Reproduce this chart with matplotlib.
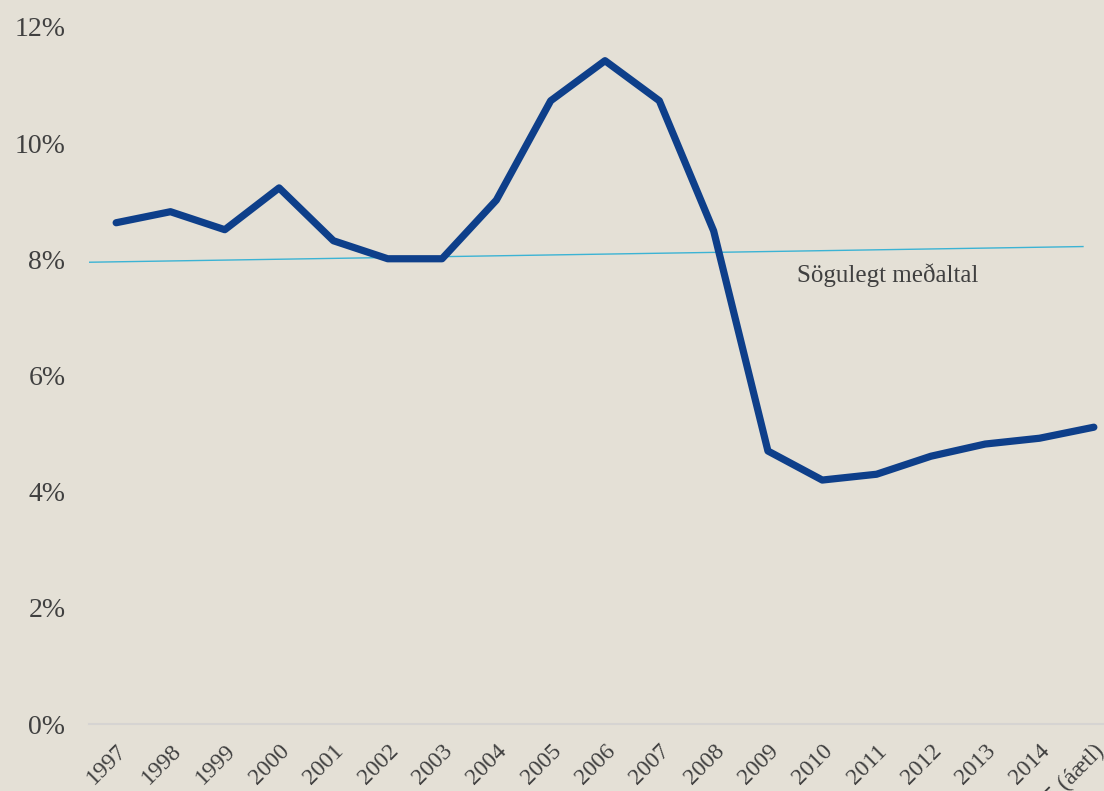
import matplotlib
matplotlib.use("Agg")
import matplotlib.pyplot as plt
import numpy as np

# data
years = ['1997', '1998', '1999', '2000', '2001', '2002', '2003', '2004', '2005', '2006',
         '2007', '2008', '2009', '2010', '2011', '2012', '2013', '2014', '2015 (áætl)']
rate = [8.63, 8.82, 8.51, 9.23, 8.32, 8.01, 8.01, 9.02, 10.73, 11.42,
        10.73, 8.49, 4.70, 4.20, 4.30, 4.61, 4.82, 4.92, 5.11]
avg_x = [-0.5, 17.8]
avg_y = [7.95, 8.22]
avg_label = 'Sögulegt meðaltal'
yticks = [0, 2, 4, 6, 8, 10, 12]

bg = '#E4E0D6'
plt.rcParams['font.family'] = ['Liberation Serif', 'DejaVu Serif']

fig = plt.figure(figsize=(11.04, 7.91), dpi=100, facecolor=bg)
ax = fig.add_axes([89/1104, 1-724/791, 1032/1104, (724-27)/791])
ax.set_facecolor(bg)

x = np.arange(len(years))
ax.plot(avg_x, avg_y, color='#3BB3D4', lw=1.0, zorder=2)
ax.plot(x, rate, color='#0E3F8A', lw=5.2, solid_capstyle='round', solid_joinstyle='round', zorder=3)
ax.text(12.53, 7.93, avg_label, fontsize=18, color='#404040', va='top', ha='left')

ax.set_xlim(-0.5, len(years) - 0.5)
ax.set_ylim(0, 12)
ax.set_yticks(yticks)
ax.set_yticklabels([f'{v}%' for v in yticks], fontsize=20, color='#404040')
ax.set_xticks(x)
ax.set_xticklabels(years, rotation=45, ha='right', va='top', rotation_mode='anchor',
                   fontsize=17, color='#404040')
ax.tick_params(axis='both', length=0)
ax.tick_params(axis='y', pad=17)
ax.tick_params(axis='x', pad=12)
for s in ['top', 'right', 'left']:
    ax.spines[s].set_visible(False)
ax.spines['bottom'].set_color('#D6D4D2')
ax.spines['bottom'].set_linewidth(1.5)

fig.savefig('out.png', dpi=100, facecolor=bg)
